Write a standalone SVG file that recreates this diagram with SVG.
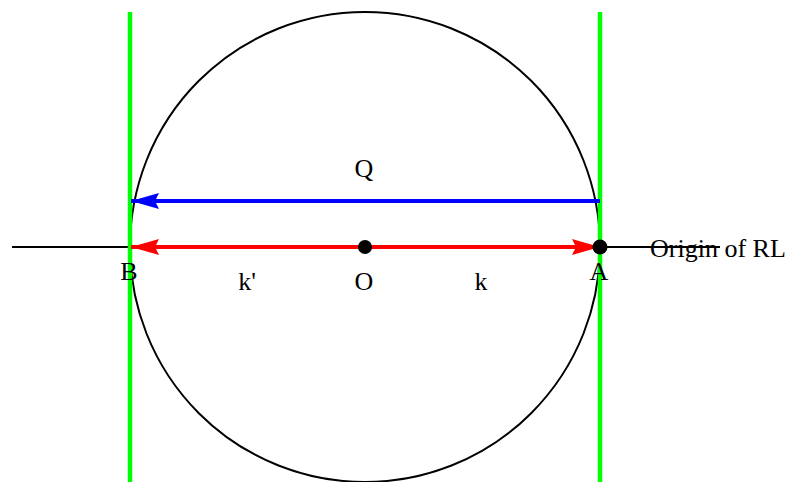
<svg xmlns="http://www.w3.org/2000/svg" width="788" height="482" viewBox="0 0 788 482">
<style>
text{font-family:"Liberation Serif","Times New Roman",serif;font-size:26px;fill:#000}
.lbl{text-anchor:middle}
.green{stroke:#00ff00;stroke-width:4.5;fill:none}
.blk{stroke:#000;stroke-width:2;fill:none}
</style>
<defs>
<marker id="ab" viewBox="0 0 28 16" refX="28" refY="8" markerWidth="28" markerHeight="16" markerUnits="userSpaceOnUse" orient="auto-start-reverse">
<path d="M0,0 L28,8 L0,16 L4,8 Z" fill="#0000ff"/>
</marker>
<marker id="ar" viewBox="0 0 28 16" refX="28" refY="8" markerWidth="28" markerHeight="16" markerUnits="userSpaceOnUse" orient="auto-start-reverse">
<path d="M0,0 L28,8 L0,16 L4,8 Z" fill="#ff0000"/>
</marker>
</defs>
<rect width="788" height="482" fill="#fff"/>
<g id="circle"><circle cx="365" cy="247" r="235" class="blk"/></g>
<g id="axis"><line x1="12" y1="247" x2="720" y2="247" class="blk"/></g>
<g id="tangent-B"><line x1="130" y1="12" x2="130" y2="482" class="green"/></g>
<g id="tangent-A"><line x1="600" y1="12" x2="600" y2="482" class="green"/></g>
<g id="connectors">
<line x1="600" y1="201" x2="131" y2="201" stroke="#0000ff" stroke-width="4" marker-end="url(#ab)"/>
<line x1="131" y1="247" x2="600" y2="247" stroke="#ff0000" stroke-width="4" marker-start="url(#ar)" marker-end="url(#ar)"/>
</g>
<g id="O"><circle cx="365" cy="247" r="7" fill="#000"/><text class="lbl" x="364" y="290">O</text></g>
<g id="A"><circle cx="600" cy="247" r="7.5" fill="#000"/><text class="lbl" x="599" y="280">A</text></g>
<g id="B"><text class="lbl" x="129" y="280">B</text></g>
<g id="Q"><text class="lbl" x="364" y="177">Q</text></g>
<g id="k1"><text class="lbl" x="247" y="290">k'</text></g>
<g id="k"><text class="lbl" x="481" y="290">k</text></g>
<g id="origin"><text x="650" y="257">Origin of RL</text></g>
</svg>
